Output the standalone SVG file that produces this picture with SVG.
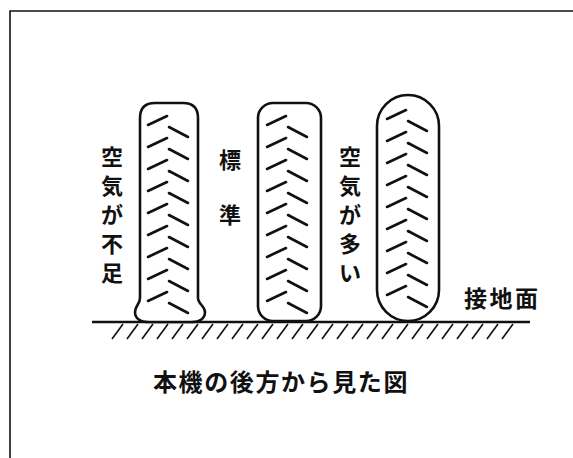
<svg xmlns="http://www.w3.org/2000/svg" xmlns:xlink="http://www.w3.org/1999/xlink" width="573" height="458" viewBox="0 0 573 458">
  <style>
    .frame { fill: none; stroke: #111; stroke-width: 1.6; }
    .tire { fill: #fff; stroke: #111; stroke-width: 2.6; stroke-linejoin: round; }
    .tread line { stroke: #111; stroke-width: 2.6; stroke-linecap: round; }
    .ground { stroke: #111; stroke-width: 2.6; }
    .hatch line { stroke: #111; stroke-width: 1.6; }
    .lbl { font-family: "Noto Sans CJK JP", "Noto Sans", sans-serif; font-weight: bold; fill: #111; }
    .ch { font-size: 22px; text-anchor: middle; }
  </style>
  <defs>
    <!-- one chevron row of the tread: left stroke rising, right stroke falling -->
    <g id="chev" class="tread">
      <line x1="0" y1="9" x2="19" y2="0"/>
      <line x1="21" y1="11" x2="40" y2="21"/>
    </g>
    <g id="treadColumn">
      <use xlink:href="#chev" y="0"/>
      <use xlink:href="#chev" y="22"/>
      <use xlink:href="#chev" y="44"/>
      <use xlink:href="#chev" y="66"/>
      <use xlink:href="#chev" y="88"/>
      <use xlink:href="#chev" y="110"/>
      <use xlink:href="#chev" y="132"/>
      <use xlink:href="#chev" y="154"/>
      <use xlink:href="#chev" y="176"/>
    </g>
  </defs>

  <rect width="573" height="458" fill="#fff"/>

  <!-- page frame (top and left edges) -->
  <path class="frame" d="M10,458 V11 H573"/>

  <!-- ground line with hatching -->
  <g id="ground">
    <line class="ground" x1="92" y1="322" x2="530" y2="322"/>
    <g class="hatch">
      <line x1="112" y1="339" x2="123" y2="324"/>
      <line x1="127" y1="339" x2="138" y2="324"/>
      <line x1="142" y1="339" x2="153" y2="324"/>
      <line x1="157" y1="339" x2="168" y2="324"/>
      <line x1="172" y1="339" x2="183" y2="324"/>
      <line x1="187" y1="339" x2="198" y2="324"/>
      <line x1="202" y1="339" x2="213" y2="324"/>
      <line x1="217" y1="339" x2="228" y2="324"/>
      <line x1="232" y1="339" x2="243" y2="324"/>
      <line x1="247" y1="339" x2="258" y2="324"/>
      <line x1="262" y1="339" x2="273" y2="324"/>
      <line x1="277" y1="339" x2="288" y2="324"/>
      <line x1="292" y1="339" x2="303" y2="324"/>
      <line x1="307" y1="339" x2="318" y2="324"/>
      <line x1="322" y1="339" x2="333" y2="324"/>
      <line x1="337" y1="339" x2="348" y2="324"/>
      <line x1="352" y1="339" x2="363" y2="324"/>
      <line x1="367" y1="339" x2="378" y2="324"/>
      <line x1="382" y1="339" x2="393" y2="324"/>
      <line x1="397" y1="339" x2="408" y2="324"/>
      <line x1="412" y1="339" x2="423" y2="324"/>
      <line x1="427" y1="339" x2="438" y2="324"/>
      <line x1="442" y1="339" x2="453" y2="324"/>
      <line x1="457" y1="339" x2="468" y2="324"/>
      <line x1="472" y1="339" x2="483" y2="324"/>
      <line x1="487" y1="339" x2="498" y2="324"/>
      <line x1="502" y1="339" x2="513" y2="324"/>
    </g>
  </g>

  <!-- under-inflated tyre: bulging at the bottom -->
  <g id="tire-low">
    <path class="tire" d="M155,103 H183 Q198,103 198,118 V298 C198,304 205,306 205,312 C205,319 199,322 191,322 H149 C141,322 135,319 135,312 C135,306 140,304 140,298 V118 Q140,103 155,103 Z"/>
    <use xlink:href="#treadColumn" x="148" y="116"/>
  </g>

  <!-- standard tyre -->
  <g id="tire-std">
    <rect class="tire" x="258" y="103" width="63" height="218" rx="15" ry="15"/>
    <use xlink:href="#treadColumn" x="267" y="116"/>
  </g>

  <!-- over-inflated tyre: fully rounded ends -->
  <g id="tire-high">
    <rect class="tire" x="377" y="95" width="62" height="226" rx="31" ry="31"/>
    <use xlink:href="#treadColumn" x="387" y="110"/>
  </g>

  <!-- labels, set vertically one character per line -->
  <g id="label-low" class="lbl">
    <text class="ch" x="112" y="165">空</text>
    <text class="ch" x="112" y="194">気</text>
    <text class="ch" x="112" y="223">が</text>
    <text class="ch" x="112" y="252">不</text>
    <text class="ch" x="112" y="281">足</text>
  </g>
  <g id="label-std" class="lbl">
    <text class="ch" x="230" y="168">標</text>
    <text class="ch" x="230" y="223">準</text>
  </g>
  <g id="label-high" class="lbl">
    <text class="ch" x="350" y="165">空</text>
    <text class="ch" x="350" y="194">気</text>
    <text class="ch" x="350" y="223">が</text>
    <text class="ch" x="350" y="252">多</text>
    <text class="ch" x="350" y="281">い</text>
  </g>
  <g id="label-ground" class="lbl">
    <text font-size="23" x="464" y="307" letter-spacing="2.5">接地面</text>
  </g>
  <g id="caption" class="lbl">
    <text font-size="24" x="153" y="391" letter-spacing="1.6">本機の後方から見た図</text>
  </g>
</svg>
